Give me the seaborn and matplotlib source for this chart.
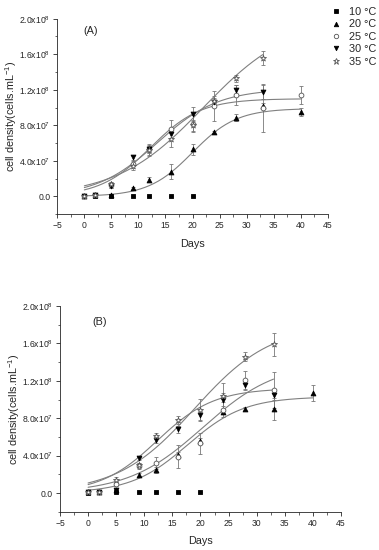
import numpy as np
import pandas as pd
import matplotlib
matplotlib.use("Agg")
import matplotlib.pyplot as plt
from matplotlib.lines import Line2D
import seaborn as sns

# ---------------------------------------------------------------
# growth curves at five temperatures, two panels (A) and (B)
# values in units of 1e7 cells/mL
# ---------------------------------------------------------------
days = [0, 2, 5, 9, 12, 16, 20, 24, 28, 33, 40]
temps = ["10", "20", "25", "30", "35"]

# panel A
a10 = [0.05, 0.1, 0.1, 0.1, 0.1, 0.05, 0.05]
a20 = [0.1, 0.15, 0.2, 0.9, 1.9, 2.8, 5.3, 7.2, 8.85, 10.2, 9.5]
a25 = [0.1, 0.15, 1.3, 3.7, 5.3, 7.6, 8.2, 10.2, 11.4, 9.9, 11.4]
a30 = [0.1, 0.15, 1.2, 4.4, 5.3, 7.05, 9.3, 10.6, 11.95, 11.8]
a35 = [0.1, 0.15, 1.4, 3.4, 5.2, 6.5, 8.0, 10.7, 13.3, 15.6]
ea10 = [0, 0, 0, 0, 0, 0, 0]
ea20 = [0, 0, 0.1, 0.2, 0.3, 0.8, 0.6, 0.2, 0.4, 0.3, 0.4]
ea25 = [0, 0, 0.3, 0.3, 0.6, 1.0, 1.0, 1.7, 1.1, 2.6, 1.0]
ea30 = [0, 0, 0.2, 0.3, 0.4, 0.5, 0.8, 0.5, 0.6, 0.8]
ea35 = [0, 0, 0.2, 0.4, 0.6, 0.9, 0.6, 0.6, 0.4, 0.8]

# panel B
b10 = [0.05, 0.1, 0.1, 0.1, 0.1, 0.1, 0.1]
b20 = [0.1, 0.15, 0.3, 1.9, 2.45, 4.1, 5.6, 8.7, 9.0, 9.0, 10.7]
b25 = [0.1, 0.15, 1.0, 2.9, 3.2, 3.9, 5.3, 8.9, 12.1, 11.0]
b30 = [0.1, 0.15, 0.3, 3.7, 5.65, 6.8, 8.3, 10.0, 11.5, 10.5]
b35 = [0.1, 0.15, 1.4, 3.0, 6.1, 7.8, 8.9, 10.4, 14.6, 15.9]
eb10 = [0, 0, 0, 0, 0, 0, 0]
eb20 = [0, 0, 0.1, 0.2, 0.3, 0.3, 0.3, 0.3, 0.2, 1.2, 0.9]
eb25 = [0, 0, 0.3, 0.3, 0.6, 1.2, 1.1, 0.8, 1.0, 1.9]
eb30 = [0, 0, 0.1, 0.2, 0.3, 0.4, 0.5, 0.7, 0.5, 0.5]
eb35 = [0, 0, 0.3, 0.2, 0.3, 0.4, 1.2, 1.4, 0.45, 1.25]

# logistic fits (K, r, t0, last day)
fit_a = {"20": (9.9, 0.245, 20.0, 40), "25": (11.0, 0.215, 12.2, 40),
         "30": (12.1, 0.178, 13.5, 33), "35": (20.0, 0.125, 22.0, 33)}
fit_b = {"20": (10.3, 0.198, 17.7, 40), "25": (14.0, 0.151, 20.4, 33),
         "30": (11.2, 0.198, 12.3, 33), "35": (18.0, 0.146, 18.9, 33)}

yticks = [0, 4e7, 8e7, 1.2e8, 1.6e8, 2.0e8]
ytick_labels = ["0.0", r"4.0x10$^7$", r"8.0x10$^7$", r"1.2x10$^8$",
                r"1.6x10$^8$", r"2.0x10$^8$"]

styles = {
    "10": dict(marker="s", fc="black", ec="black"),
    "20": dict(marker="^", fc="black", ec="black"),
    "25": dict(marker="o", fc="white", ec="#555555"),
    "30": dict(marker="v", fc="black", ec="black"),
    "35": dict(marker="*", fc="white", ec="#555555"),
}

sns.set_style("ticks")
plt.rcParams["font.family"] = ["Liberation Sans", "DejaVu Sans"]
plt.rcParams["mathtext.fontset"] = "custom"
plt.rcParams["mathtext.rm"] = "Liberation Sans"

fig = plt.figure(figsize=(3.79, 5.5), dpi=100)
ax_a = fig.add_axes([0.1512, 0.6104, 0.7135, 0.3556])
ax_b = fig.add_axes([0.1583, 0.0696, 0.7414, 0.3740])


def draw_panel(ax, vals, errs, fits, tag, tag_x, tag_y):
    # fitted curves
    for t, (K, r, t0, tend) in fits.items():
        tt = np.linspace(0, tend, 200)
        curve = pd.DataFrame({"day": tt, "dens": K / (1 + np.exp(-r * (tt - t0))) * 1e7})
        sns.lineplot(data=curve, x="day", y="dens", ax=ax, color="#808080",
                     linewidth=0.8, zorder=1)
    # points with error bars
    for t in temps:
        y = np.array(vals[t]) * 1e7
        e = np.array(errs[t]) * 1e7
        x = days[:len(y)]
        ax.errorbar(x, y, yerr=e, fmt="none", ecolor="#777777", elinewidth=0.6,
                    capsize=1.6, capthick=0.6, zorder=2)
        st = styles[t]
        size = 20 if st["marker"] == "*" else 12
        sns.scatterplot(x=x, y=y, ax=ax, marker=st["marker"], s=size,
                        color=st["fc"], edgecolor=st["ec"], linewidth=0.6,
                        zorder=3, legend=False)
    ax.set_xlim(-5, 45)
    ax.set_ylim(-2e7, 2.0e8)
    ax.set_xticks(range(-5, 46, 5))
    ax.set_xticks(np.arange(-2.5, 45, 5), minor=True)
    ax.set_yticks(yticks)
    ax.set_yticks([-2e7, 2e7, 6e7, 1e8, 1.4e8, 1.8e8], minor=True)
    ax.set_yticklabels(ytick_labels)
    ax.tick_params(axis="both", which="major", labelsize=6.2, length=3, width=0.6, pad=2)
    ax.tick_params(axis="both", which="minor", length=1.8, width=0.5)
    ax.set_xlabel("Days", fontsize=7.8, labelpad=6)
    ax.set_ylabel(r"cell density(cells.mL$^{-1}$)", fontsize=7.8, labelpad=0)
    for s in ["top", "right"]:
        ax.spines[s].set_visible(False)
    for s in ["left", "bottom"]:
        ax.spines[s].set_linewidth(0.6)
    ax.text(tag_x, tag_y, tag, fontsize=7.8, va="center", ha="left")


draw_panel(ax_a, {"10": a10, "20": a20, "25": a25, "30": a30, "35": a35},
           {"10": ea10, "20": ea20, "25": ea25, "30": ea30, "35": ea35},
           fit_a, "(A)", -0.2, 1.86e8)
draw_panel(ax_b, {"10": b10, "20": b20, "25": b25, "30": b30, "35": b35},
           {"10": eb10, "20": eb20, "25": eb25, "30": eb30, "35": eb35},
           fit_b, "(B)", 0.8, 1.83e8)

handles = []
for t in temps:
    st = styles[t]
    ms = 4.5 if st["marker"] == "*" else 3.2
    handles.append(Line2D([], [], linestyle="none", marker=st["marker"],
                          markerfacecolor=st["fc"], markeredgecolor=st["ec"],
                          markeredgewidth=0.6, markersize=ms))
fig.legend(handles, [t + " \u00b0C" for t in temps], loc="upper left",
           bbox_to_anchor=(0.85, 1.003), frameon=False, fontsize=7.8,
           handlelength=1.0, handletextpad=0.7, labelspacing=0.22,
           borderpad=0.3)

fig.savefig("out.png", dpi=100)
